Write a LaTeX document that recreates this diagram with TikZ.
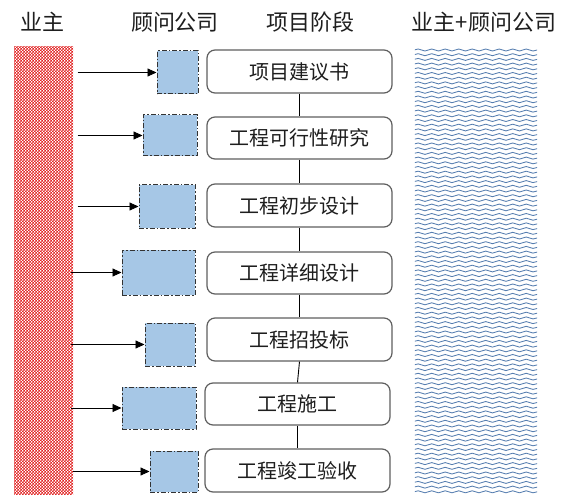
\documentclass[tikz,border=0pt]{standalone}
\usepackage{fontspec}
\setmainfont{Noto Sans CJK SC}
\usetikzlibrary{patterns,arrows.meta,decorations.pathmorphing}
\definecolor{txt}{RGB}{30,30,30}
\definecolor{chk}{RGB}{225,35,35}
\definecolor{bluefill}{RGB}{166,199,230}
\definecolor{bordergray}{RGB}{95,95,95}
\definecolor{wavecol}{RGB}{85,125,175}
\pgfdeclarepatternformonly{finechecker}{\pgfpointorigin}{\pgfqpoint{3.4pt}{3.4pt}}{\pgfqpoint{3.4pt}{3.4pt}}{%
  \pgfpathrectangle{\pgfpointorigin}{\pgfqpoint{1.75pt}{1.75pt}}%
  \pgfpathrectangle{\pgfqpoint{1.7pt}{1.7pt}}{\pgfqpoint{1.7pt}{1.7pt}}%
  \pgfusepath{fill}}
\begin{document}
\begin{tikzpicture}[x=1pt,y=-1pt,
  header/.style={text=txt,font=\fontsize{22}{24}\selectfont,inner sep=0pt},
  stagebox/.style={draw=bordergray,line width=1.2pt,rounded corners=8pt,fill=white,
    text=txt,font=\fontsize{20}{22}\selectfont,inner sep=0pt},
  consult/.style={draw=black!80,line width=1pt,fill=bluefill,
    dash pattern=on 5pt off 2pt on 1.5pt off 2pt,inner sep=0pt},
  link/.style={draw=black,line width=0.9pt},
  arr/.style={draw=black,line width=0.9pt,-{Triangle[length=9pt,width=8pt]}},
  wave/.style={draw=wavecol,line width=0.85pt,decorate,
    decoration={snake,amplitude=1pt,segment length=13.5pt}}
]
\useasboundingbox (0,0) rectangle (566,495);

% headers
\node[header] (h1) at (42,22) {业主};
\node[header] (h2) at (175,22) {顾问公司};
\node[header] (h3) at (310,22) {项目阶段};
\node[header] (h4) at (484,22) {业主+顾问公司};

% owner column
\node[minimum width=59pt,minimum height=447pt,inner sep=0pt,
  pattern=finechecker,pattern color=chk] (owner) at (43.5,270.5) {};

% owner + consultant column
\node[minimum width=122pt,minimum height=444pt,inner sep=0pt] (joint) at (476,271) {};
\begin{scope}
\clip (joint.north west) rectangle (joint.south east);
\foreach \i in {0,...,94}{
  \draw[wave] (414,{50+4.7*\i}) -- (540,{50+4.7*\i});
}
\end{scope}

% stages
\node[stagebox,minimum width=185pt,minimum height=43pt] (s1) at (299.5,71.5) {项目建议书};
\node[stagebox,minimum width=185pt,minimum height=42pt] (s2) at (299.5,138) {工程可行性研究};
\node[stagebox,minimum width=185pt,minimum height=43pt] (s3) at (299.5,205.5) {工程初步设计};
\node[stagebox,minimum width=185pt,minimum height=42pt] (s4) at (299.5,273) {工程详细设计};
\node[stagebox,minimum width=185pt,minimum height=43pt] (s5) at (299.5,339.5) {工程招投标};
\node[stagebox,minimum width=185pt,minimum height=42pt] (s6) at (297.5,404) {工程施工};
\node[stagebox,minimum width=185pt,minimum height=43pt] (s7) at (297.5,470.5) {工程竣工验收};

\draw[link] (s1.south) -- (s2.north);
\draw[link] (s2.south) -- (s3.north);
\draw[link] (s3.south) -- (s4.north);
\draw[link] (s4.south) -- (s5.north);
\draw[link] (s5.south) -- (s6.north);
\draw[link] (s6.south) -- (s7.north);

% consultant boxes
\node[consult,minimum width=41pt,minimum height=43pt] (c1) at (177.5,72.5) {};
\node[consult,minimum width=54pt,minimum height=41pt] (c2) at (170,135.5) {};
\node[consult,minimum width=56pt,minimum height=43pt] (c3) at (167,206.5) {};
\node[consult,minimum width=73pt,minimum height=45pt] (c4) at (158.5,272.5) {};
\node[consult,minimum width=50pt,minimum height=43pt] (c5) at (170,344.5) {};
\node[consult,minimum width=74pt,minimum height=42pt] (c6) at (159,408) {};
\node[consult,minimum width=48pt,minimum height=41pt] (c7) at (174,471.5) {};

% arrows from owner
\draw[arr] ([xshift=4.5pt]owner.east |- c1.west) -- (c1.west);
\draw[arr] ([xshift=4.5pt]owner.east |- c2.west) -- (c2.west);
\draw[arr] ([xshift=4.5pt]owner.east |- c3.west) -- (c3.west);
\draw[arr] ([xshift=-2pt]owner.east |- c4.west) -- (c4.west);
\draw[arr] ([xshift=-2pt]owner.east |- c5.west) -- (c5.west);
\draw[arr] ([xshift=-2pt]owner.east |- c6.west) -- (c6.west);
\draw[arr] ([xshift=0pt]owner.east |- c7.west) -- (c7.west);
\end{tikzpicture}
\end{document}
